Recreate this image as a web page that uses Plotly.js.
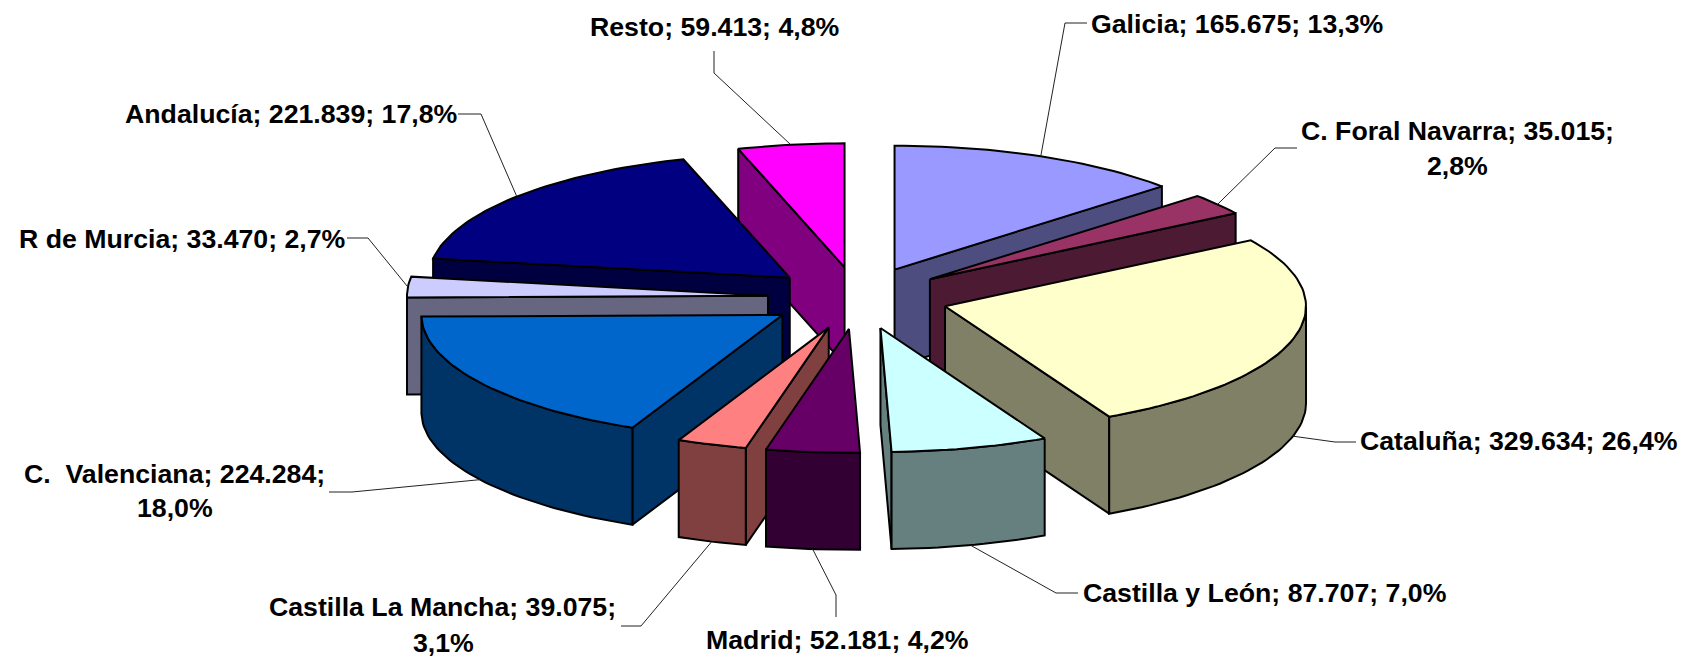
<!DOCTYPE html>
<html><head><meta charset="utf-8">
<script src="https://cdn.plot.ly/plotly-3.0.1.min.js"></script>
<style>html,body{margin:0;padding:0;background:#fff}#c{width:1690px;height:659px}</style>
</head><body><div id="c"></div>
<script>
// ---- data ----
const categories = ["Galicia","C. Foral Navarra","Cataluña","Castilla y León","Madrid","Castilla La Mancha","C.\u00a0\u00a0Valenciana","R de Murcia","Andalucía","Resto"];
const values = [165675,35015,329634,87707,52181,39075,224284,33470,221839,59413];
const topColors = ["#9999FF","#993366","#FFFFCC","#CCFFFF","#660066","#FF8080","#0066CC","#CCCCFF","#000080","#FF00FF"];
const wallColors = ["#4D4D80","#4D1A33","#808066","#668080","#330033","#804040","#003366","#666680","#000040","#800080"];
// ---- geometry of the projected pie ----
const CX=858, CY=298, RX=361, RY=124, DEPTH=97, EXPLODE=0.25;
const drawOrder=[9,0,1,8,7,2,6,5,4,3];
// ---- label placement: centre x, y of each text line; leader line from label to elbow ----
const labelLines=[
 [[1237,24]],[[1457,131],[1457,166]],[[1519,441]],[[1265,593]],[[837,640]],
 [[442,607],[443,643]],[[174,474],[175,508]],[[182,239]],[[291,114]],[[714,27]]];
const labelBreak=[null,2,null,null,null,2,2,null,null,null];
const leaderStart=[[1087,23],[1297,148],[1356,442],[1078,593],[836,617],[621,626],[329,492],[347,238],[458,114],[714,51]];
const leaderElbow=[[1065,23],[1275,148],[1335,442],[1056,593],[836,595],[641,626],[352,492],[368,238],[481,114],[714,73]];

const total=values.reduce((a,b)=>a+b,0);
const rad=d=>d*Math.PI/180;
const fmtVal=v=>String(v).replace(/\B(?=(\d{3})+$)/g,'.');
const fmtPct=v=>(100*v/total).toFixed(1).replace('.',',')+'%';

let acc=0;
const slices=values.map((v,i)=>{
  const a0=acc/total*360; acc+=v; const a1=acc/total*360; const mid=(a0+a1)/2;
  const ax=CX+EXPLODE*RX*Math.sin(rad(mid)), ay=CY-EXPLODE*RY*Math.cos(rad(mid));
  return {i,a0,a1,mid,ax,ay};
});
const pt=(s,a,dz=0)=>[s.ax+RX*Math.sin(rad(a)), s.ay-RY*Math.cos(rad(a))+dz];
function arc(s,a,b,dz=0){
  const n=Math.max(2,Math.ceil(Math.abs(b-a)/1.5)); const r=[];
  for(let k=0;k<=n;k++) r.push(pt(s,a+(b-a)*k/n,dz));
  return r;
}
function poly(points,fill){
  const p=points.concat([points[0]]);
  return {type:'scatter',mode:'lines',x:p.map(q=>q[0]),y:p.map(q=>q[1]),fill:'toself',fillcolor:fill,
    line:{color:'#000',width:2,shape:'linear'},hoverinfo:'skip',showlegend:false};
}
const traces=[];
drawOrder.forEach(i=>{
  const s=slices[i], apex=[s.ax,s.ay], apexB=[s.ax,s.ay+DEPTH], wc=wallColors[i];
  if(Math.sin(rad(s.a0))<-1e-6){ const o=pt(s,s.a0); traces.push(poly([apex,o,[o[0],o[1]+DEPTH],apexB],wc)); }
  if(Math.sin(rad(s.a1))>1e-6){ const o=pt(s,s.a1); traces.push(poly([apex,o,[o[0],o[1]+DEPTH],apexB],wc)); }
  const f0=Math.max(s.a0,90), f1=Math.min(s.a1,270);
  if(f1-f0>1){ traces.push(poly(arc(s,f0,f1).concat(arc(s,f1,f0,DEPTH)),wc)); }
  traces.push(poly([apex].concat(arc(s,s.a0,s.a1)),topColors[i]));
});
// leader lines, ending on the slice's outer edge at its mid angle
slices.forEach(s=>{
  const m=((s.mid%360)+360)%360, front=m>90&&m<270;
  const e=pt(s,s.mid,front?DEPTH:0), a=leaderStart[s.i], b=leaderElbow[s.i];
  traces.push({type:'scatter',mode:'lines',x:[a[0],b[0],e[0]],y:[a[1],b[1],e[1]],
    line:{color:'#222',width:1},hoverinfo:'skip',showlegend:false});
});
// labels
const annotations=[];
values.forEach((v,i)=>{
  const full=[categories[i]+';',fmtVal(v)+';',fmtPct(v)];
  const lines=labelBreak[i]?[full.slice(0,labelBreak[i]).join(' '),full.slice(labelBreak[i]).join(' ')]:[full.join(' ')];
  lines.forEach((t,k)=>annotations.push({xref:'x',yref:'y',x:labelLines[i][k][0],y:labelLines[i][k][1],text:t,showarrow:false,
    xanchor:'center',yanchor:'middle',font:{family:'"Liberation Sans",Arial,sans-serif',size:26.7,color:'#000',weight:700}}));
});
Plotly.newPlot('c',traces,{
  width:1690,height:659,margin:{l:0,r:0,t:0,b:0},paper_bgcolor:'#fff',plot_bgcolor:'#fff',showlegend:false,
  xaxis:{range:[0,1690],visible:false,fixedrange:true},
  yaxis:{range:[659,0],visible:false,fixedrange:true},
  annotations
},{displayModeBar:false,staticPlot:true});
</script></body></html>
